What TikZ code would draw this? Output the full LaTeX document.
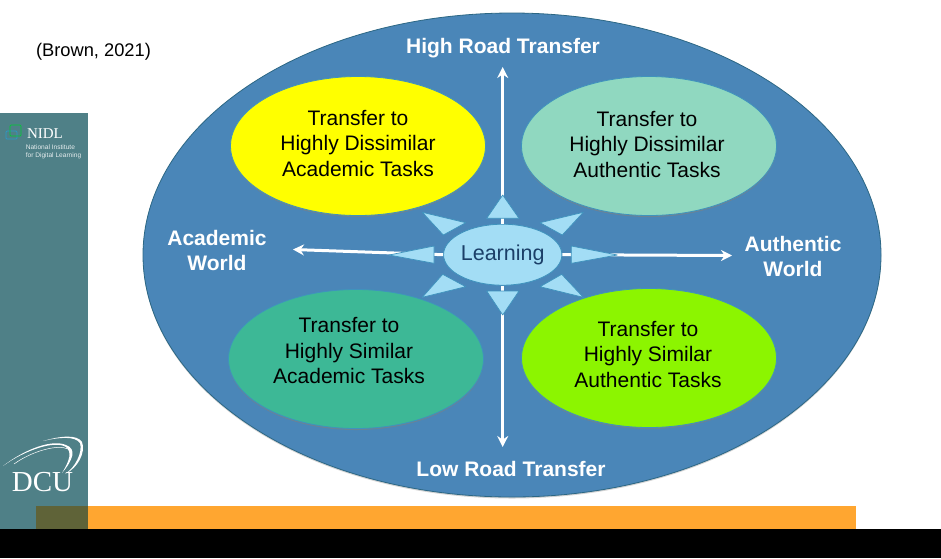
\documentclass[tikz,border=0pt]{standalone}
\usepackage{fontspec}
\usepackage{tikz}
\usetikzlibrary{shadows}
\usetikzlibrary{shapes.geometric}
\usetikzlibrary{arrows.meta}
\setmainfont{Liberation Sans}
\newfontfamily\logofont{Liberation Serif}
\definecolor{sidebar}{HTML}{4F8087}
\definecolor{barorange}{HTML}{FFA630}
\definecolor{barolive}{HTML}{5F6338}
\definecolor{bigblue}{HTML}{4A86B8}
\definecolor{lightblue}{HTML}{A3DDF5}
\definecolor{edgeblue}{HTML}{3F93BD}
\definecolor{sunyellow}{HTML}{FFFF00}
\definecolor{paleteal}{HTML}{90D8C0}
\definecolor{seateal}{HTML}{3DB896}
\definecolor{limegreen}{HTML}{8CF500}
\definecolor{learntext}{HTML}{1B3F68}

\begin{document}
\begin{tikzpicture}[
        x=1pt, y=-1pt,
        world/.style={ellipse, draw=edgeblue!70!black, fill=bigblue, thick, minimum width=738pt, minimum height=484pt, inner sep=0pt, drop shadow={shadow xshift=0pt, shadow yshift=-1.5pt, opacity=.35}},
        task/.style={ellipse, draw=edgeblue, thick, minimum width=255pt, minimum height=139pt, inner sep=0pt, drop shadow={shadow xshift=0pt, shadow yshift=-1.5pt, opacity=.6}},
        tasktext/.style={align=center, text=black, font=\fontsize{21}{25.5}\selectfont},
        road/.style={align=center, text=white, font=\bfseries\fontsize{21}{25.5}\selectfont},
        learn/.style={ellipse, draw=edgeblue, fill=lightblue, thick, minimum width=115pt, minimum height=61pt, inner sep=0pt, text=learntext, font=\fontsize{21.5}{25}\selectfont},
        spoke/.style={draw=white, line width=3pt, -{Stealth[length=11pt, width=11pt]}},
        wedge/.style={draw=edgeblue, fill=lightblue, line width=.7pt, line join=round}
      ]
        \useasboundingbox (0,0) rectangle (941,558);

        % slide furniture
        \fill[sidebar] (0,113) rectangle (88,529);
        \fill[barorange] (88,506) rectangle (856,529);
        \fill[barolive] (36,506) rectangle (88,529);
        \fill[black] (0,529) rectangle (941,558);
        \node[font=\fontsize{18.3}{22}\selectfont] (cite) at (93.5,51.5) {(Brown, 2021)};

        % NIDL logo
        \draw[cyan!60!teal, line width=.7pt, rounded corners=1pt] (6,131) rectangle (17,139);
        \draw[green!60!teal, line width=.7pt, rounded corners=1pt] (10,125) rectangle (21,136);
        \node[text=white, font=\logofont\fontsize{15}{15}\selectfont, inner sep=0pt] (nidl) at (45,134) {NIDL};
        \node[text=white!85!sidebar, align=left, font=\fontsize{6.6}{8}\selectfont, inner sep=0pt] (nidlname) at (53.5,152) {National Institute\\for Digital Learning};

        % DCU logo
        \node[text=white, font=\logofont\fontsize{29}{29}\selectfont, inner sep=0pt] (dcu) at (42.5,482) {DCU};
        \fill[white] (3,466) .. controls (25,450) and (55,440) .. (66,447) .. controls (72,452) and (70,460) .. (62,473) .. controls (73,460) and (77,449) .. (66,445) .. controls (52,439) and (25,449) .. (3,466);
        \fill[white] (43,441) .. controls (60,437) and (75,436) .. (80,443) .. controls (83,452) and (75,468) .. (65,474) .. controls (78,468) and (86,452) .. (82,442) .. controls (77,434) and (60,436) .. (43,441);
        \draw[white, line width=.5pt] (14,464) .. controls (32,451) and (58,444) .. (68,449);

        % the big ellipse and what sits on it
        \node[world] (world) at (512,255) {};
        \node[task, fill=sunyellow] (disacad)  at (358,146) {};
        \node[task, fill=paleteal]  (disauth)  at (649,146) {};
        \node[task, fill=seateal]   (simacad)  at (356,359) {};
        \node[task, fill=limegreen] (simauth)  at (649,358) {};

        \node[tasktext] (disacadtext) at (358,143) {Transfer to\\Highly Dissimilar\\Academic Tasks};
        \node[tasktext] (disauthtext) at (647,144) {Transfer to\\Highly Dissimilar\\Authentic Tasks};
        \node[tasktext] (simacadtext) at (349,350.8) {Transfer to\\Highly Similar\\Academic Tasks};
        \node[tasktext] (simauthtext) at (648,354.3) {Transfer to\\Highly Similar\\Authentic Tasks};

        \node[road] (high) at (503,48)  {High Road Transfer};
        \node[road] (low)  at (511,468.5) {Low Road Transfer};
        \node[road] (acad) at (217,250.5) {Academic\\World};
        \node[road] (auth) at (793,256.5) {Authentic\\World};

        \node[learn] (learning) at (502.7,254.7) {Learning};

        \coordinate (hightip) at (502.7,67);
        \coordinate (lowtip)  at (502.7,447);
        \coordinate (acadtip) at (293,249.5);
        \coordinate (authtip) at (732,255.5);

        \draw[spoke] (learning.north) -- (hightip);
        \draw[spoke] (learning.south) -- (lowtip);
        \draw[spoke] (learning.west)  -- (acadtip);
        \draw[spoke] (learning.east)  -- (authtip);

        \draw[wedge] (502.7,195) -- (486.7,218.3) -- (519,218.3) -- cycle;
        \draw[wedge] (502.7,315) -- (486.7,291) -- (519,291) -- cycle;
        \draw[wedge] (389,255) -- (434,246) -- (434,263.3) -- cycle;
        \draw[wedge] (617.3,255) -- (571.3,246) -- (571.3,263.3) -- cycle;
        \draw[wedge] (422.3,212.3) -- (465.7,222.7) -- (443.3,235) -- cycle;
        \draw[wedge] (583.3,212.3) -- (540,222.7) -- (562.3,235) -- cycle;
        \draw[wedge] (422.3,297.3) -- (465.7,286.7) -- (442.7,274.3) -- cycle;
        \draw[wedge] (583.3,297.3) -- (540,286.7) -- (561.7,274.3) -- cycle;
      \end{tikzpicture}
\end{document}
